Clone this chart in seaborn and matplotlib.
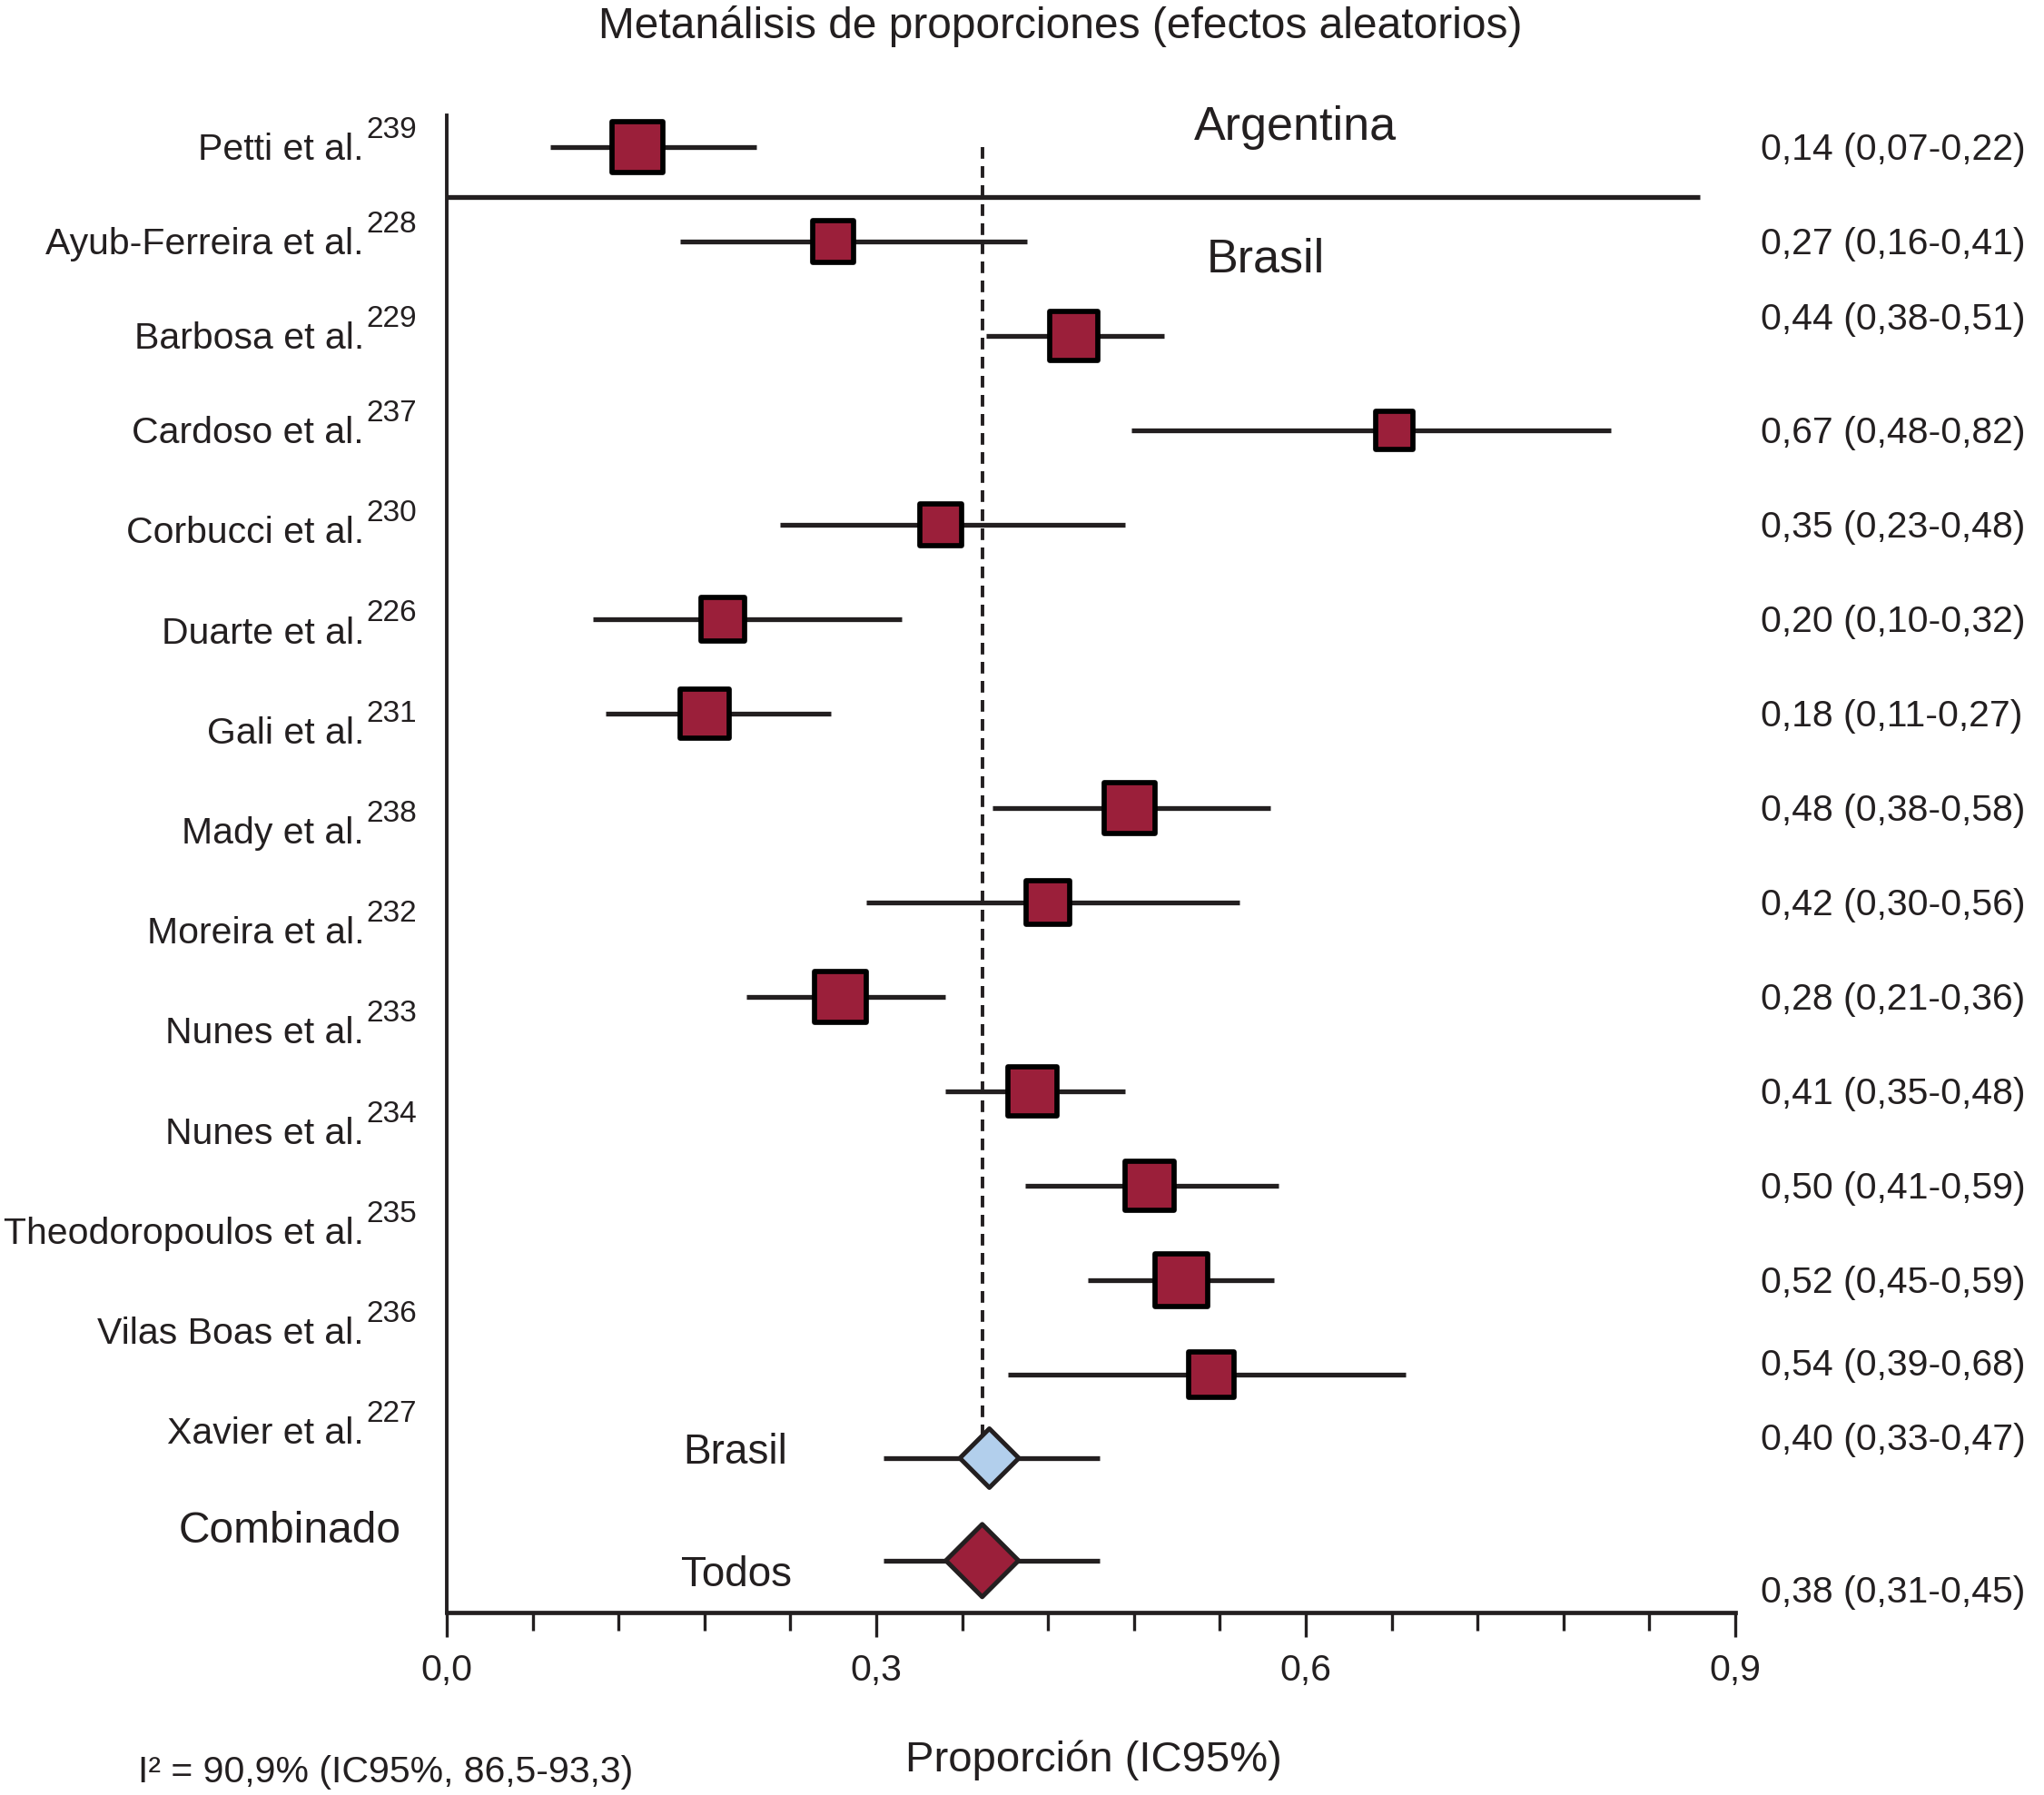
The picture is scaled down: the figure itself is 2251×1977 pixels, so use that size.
import matplotlib
matplotlib.use("Agg")
import matplotlib.pyplot as plt
import matplotlib.transforms as mtransforms
import numpy as np
import pandas as pd
import seaborn as sns

# --- data ---------------------------------------------------------------
studies = ["Petti et al.", "Ayub-Ferreira et al.", "Barbosa et al.", "Cardoso et al.",
           "Corbucci et al.", "Duarte et al.", "Gali et al.", "Mady et al.",
           "Moreira et al.", "Nunes et al.", "Nunes et al.", "Theodoropoulos et al.",
           "Vilas Boas et al.", "Xavier et al."]
refs = ["239", "228", "229", "237", "230", "226", "231", "238",
        "232", "233", "234", "235", "236", "227"]
est = [0.133, 0.270, 0.438, 0.662, 0.345, 0.193, 0.180, 0.477,
       0.420, 0.275, 0.409, 0.491, 0.513, 0.534]
lo = [0.072, 0.163, 0.377, 0.478, 0.233, 0.102, 0.111, 0.381,
      0.293, 0.209, 0.348, 0.404, 0.448, 0.392]
hi = [0.216, 0.405, 0.501, 0.813, 0.474, 0.318, 0.268, 0.575,
      0.554, 0.348, 0.474, 0.581, 0.578, 0.670]
weights = [8.3, 5.6, 7.5, 4.8, 5.9, 6.3, 7.8, 8.3, 6.1, 8.3, 7.8, 7.8, 8.9, 6.6]

pooled_names = ["Brasil", "Todos"]
pooled_est = [0.379, 0.374]
pooled_lo = [0.305, 0.305]
pooled_hi = [0.456, 0.456]

ci_text = ["0,14 (0,07-0,22)", "0,27 (0,16-0,41)", "0,44 (0,38-0,51)", "0,67 (0,48-0,82)",
           "0,35 (0,23-0,48)", "0,20 (0,10-0,32)", "0,18 (0,11-0,27)", "0,48 (0,38-0,58)",
           "0,42 (0,30-0,56)", "0,28 (0,21-0,36)", "0,41 (0,35-0,48)", "0,50 (0,41-0,59)",
           "0,52 (0,45-0,59)", "0,54 (0,39-0,68)"]
pooled_text = ["0,40 (0,33-0,47)", "0,38 (0,31-0,45)"]

x_ticks = [0.0, 0.3, 0.6, 0.9]
x_ticklabels = ["0,0", "0,3", "0,6", "0,9"]

# --- style ----------------------------------------------------------------
INK = "#231f20"
RED = "#9b1f3a"
BLUE = "#b2cfec"

sns.set_theme(style="ticks")
plt.rcParams["font.family"] = ["Liberation Sans", "DejaVu Sans"]
plt.rcParams["text.color"] = INK

W, H = 2251, 1977
fig = plt.figure(figsize=(W / 100, H / 100), dpi=100)
ax = fig.add_axes([492 / W, 1 - 1776 / H, 1419 / W, (1776 - 127) / H])


def fx(px):
    return px / W


def fy(py):
    return 1 - py / H


rows = np.arange(len(studies), dtype=float)
pooled_rows = [13.885, 14.97]

df = pd.DataFrame({"study": studies, "est": est, "lo": lo, "hi": hi,
                   "weight": weights, "row": rows})
pooled = pd.DataFrame({"name": pooled_names, "est": pooled_est, "lo": pooled_lo,
                       "hi": pooled_hi, "row": pooled_rows})

# dashed reference line at the overall estimate
ax.vlines(pooled_est[1], 0, pooled_rows[0], color=INK, lw=2.8,
          linestyle=(0, (3.3, 2.1)), zorder=1)

# confidence intervals
ax.hlines(df["row"], df["lo"], df["hi"], color=INK, lw=3.8, zorder=2)
ax.hlines(pooled["row"], pooled["lo"], pooled["hi"], color=INK, lw=3.8, zorder=2)

# boxes sized by study weight
edge_px = 5.7
size_map = {w: ((21.5 * np.sqrt(w) - edge_px) * 0.72) ** 2 for w in set(weights)}
sns.scatterplot(data=df, x="est", y="row", size="weight", sizes=size_map,
                marker="s", color=RED, edgecolor="black", linewidth=4.1,
                legend=False, ax=ax, zorder=3)

# pooled diamonds
sns.scatterplot(data=pooled, x="est", y="row", hue="name",
                palette={"Brasil": BLUE, "Todos": RED}, marker="D",
                s=[1095, 1660], edgecolor=INK, linewidth=3.6,
                legend=False, ax=ax, zorder=3)

# Argentina / Brasil separator
ax.hlines(0.53, 0, 0.875, color=INK, lw=3.8, zorder=2)

ax.set_xlim(0, 0.9)
ax.set_ylim(15.52, -0.337)
ax.set_xlabel("")
ax.set_ylabel("")
ax.set_yticks([])
ax.set_xticks(x_ticks)
ax.set_xticklabels(x_ticklabels)
ax.set_xticks([round(0.06 * k, 2) for k in range(16) if k % 5], minor=True)
ax.tick_params(axis="x", which="major", length=19.5, width=2.4, direction="out",
               labelsize=29.5, pad=13, color=INK, labelcolor=INK)
ax.tick_params(axis="x", which="minor", length=14.4, width=2.4, direction="out",
               color=INK)
for side in ["top", "right"]:
    ax.spines[side].set_visible(False)
ax.spines["left"].set_linewidth(2.8)
ax.spines["bottom"].set_linewidth(3.4)
ax.spines["left"].set_color(INK)
ax.spines["bottom"].set_color(INK)

# study labels with superscript references
trans = mtransforms.blended_transform_factory(fig.transFigure, ax.transData)
base = mtransforms.offset_copy(trans, fig=fig, y=-10.1, units="points")
sup = mtransforms.offset_copy(trans, fig=fig, y=7.2, units="points")
for i, (name, ref) in enumerate(zip(studies, refs)):
    y = i + 0.06 * max(i - 3, 0)
    ax.text(fx(401), y, name, transform=base, ha="right", va="baseline",
            fontsize=29.5)
    ax.text(fx(403), y, ref, transform=sup, ha="left", va="baseline",
            fontsize=24)

# values column on the right
value_rows = list(rows)
value_rows[2] -= 0.2
value_rows[13] -= 0.125
for y, txt in zip(value_rows, ci_text):
    ax.text(fx(1939), y, txt, transform=base, ha="left", va="baseline",
            fontsize=29.5)
for y, txt in zip([13.66, 15.28], pooled_text):
    ax.text(fx(1939), y, txt, transform=base, ha="left", va="baseline",
            fontsize=29.5)

# headings and annotations
fig.text(fx(1168), fy(42), "Metanálisis de proporciones (efectos aleatorios)",
         ha="center", va="baseline", fontsize=34.5)
fig.text(fx(1426), fy(154), "Argentina", ha="center", va="baseline", fontsize=37.5)
fig.text(fx(1394), fy(300), "Brasil", ha="center", va="baseline", fontsize=37.5)
fig.text(fx(319), fy(1699), "Combinado", ha="center", va="baseline", fontsize=34.5)
fig.text(fx(810), fy(1612), "Brasil", ha="center", va="baseline", fontsize=33)
fig.text(fx(811), fy(1747), "Todos", ha="center", va="baseline", fontsize=33)
fig.text(fx(1204), fy(1951), "Proporción (IC95%)", ha="center", va="baseline",
         fontsize=34)
fig.text(fx(152), fy(1963), "I² = 90,9% (IC95%, 86,5-93,3)", ha="left",
         va="baseline", fontsize=29.5)

fig.savefig("out.png", dpi=100, facecolor="white")
